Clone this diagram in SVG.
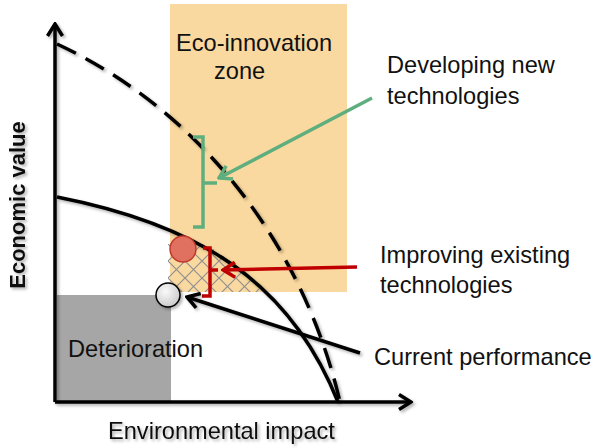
<svg xmlns="http://www.w3.org/2000/svg" width="598" height="448" viewBox="0 0 598 448">
  <style>
    text { font-family: "Liberation Sans", Arial, sans-serif; font-size: 23.6px; fill: #111; }
    .bold { font-weight: bold; font-size: 22px; }
    .ln { fill: none; stroke-linecap: butt; }
    .blk { stroke: #000; stroke-width: 3.5; }
    .grn { stroke: #5fae7e; stroke-width: 3.5; }
    .red { stroke: #c00000; stroke-width: 3.5; }
  </style>
  <defs>
    <filter id="sh" x="-10%" y="-10%" width="130%" height="130%">
      <feDropShadow dx="2" dy="2" stdDeviation="1.5" flood-color="#000" flood-opacity="0.3"/>
    </filter>
    <pattern id="hatch" x="168" y="244" width="17" height="17" patternUnits="userSpaceOnUse">
      <path d="M0,0 L17,17 M17,0 L0,17" stroke="#909090" stroke-width="1.2" fill="none"/>
    </pattern>
    <radialGradient id="gc" cx="40%" cy="35%" r="70%">
      <stop offset="0" stop-color="#fafafa"/>
      <stop offset="1" stop-color="#c8c8c8"/>
    </radialGradient>
    <marker id="mBlk" viewBox="-14 -9 16 18" refX="0" refY="0" markerWidth="16" markerHeight="18" markerUnits="userSpaceOnUse" orient="auto">
      <path d="M-12,-7.5 L0,0 L-12,7.5" fill="none" stroke="#000" stroke-width="3.5"/>
    </marker>
    <marker id="mGrn" viewBox="-14 -9 16 18" refX="0" refY="0" markerWidth="16" markerHeight="18" markerUnits="userSpaceOnUse" orient="auto">
      <path d="M-12,-7.5 L0,0 L-12,7.5" fill="none" stroke="#5fae7e" stroke-width="3.5"/>
    </marker>
    <marker id="mRed" viewBox="-14 -9 16 18" refX="0" refY="0" markerWidth="16" markerHeight="18" markerUnits="userSpaceOnUse" orient="auto">
      <path d="M-12,-7.5 L0,0 L-12,7.5" fill="none" stroke="#c00000" stroke-width="3.5"/>
    </marker>
  </defs>

  <g id="eco-zone">
    <rect x="170" y="4" width="177" height="288" fill="#fad9a0"/>
    <text x="176" y="51">Eco-innovation</text>
    <text x="214" y="79">zone</text>
  </g>

  <g id="deterioration">
    <rect x="57" y="295" width="114" height="107" fill="#a6a6a6"/>
    <text x="68" y="357">Deterioration</text>
  </g>

  <g id="hatch-area">
    <path d="M168,244 L206,244 L233,263 L248,277 L262,292 L168,292 Z" fill="url(#hatch)"/>
  </g>

  <g id="curves" filter="url(#sh)">
    <path class="ln blk" d="M57,44 C207,114 305,252 340,402" stroke-dasharray="21,11"/>
    <path class="ln blk" d="M57,197 C200,225 290,282 338,402"/>
  </g>

  <g id="axes" filter="url(#sh)">
    <path class="ln blk" d="M55,402 L55,24" marker-end="url(#mBlk)"/>
    <path class="ln blk" d="M55,402 L411,402" marker-end="url(#mBlk)"/>
    <text class="bold" transform="translate(25,205) rotate(-90)" text-anchor="middle" x="0" y="0">Economic value</text>
    <text x="108" y="439">Environmental impact</text>
  </g>

  <g id="new-tech-bracket">
    <path class="ln grn" d="M193,137 L203,137 L203,227 L193,227 M203,183 L217,183"/>
  </g>

  <g id="improve-bracket">
    <path class="ln red" d="M203,248 L210,248 L210,296 L202,296 M210,270 L218,270"/>
  </g>

  <g id="improved-point">
    <circle cx="183" cy="249" r="13" fill="#e0705f" stroke="#c0392b" stroke-width="1.5"/>
  </g>

  <g id="current-point" filter="url(#sh)">
    <circle cx="168" cy="295" r="12" fill="url(#gc)" stroke="#000" stroke-width="1.5"/>
  </g>

  <g id="connectors">
    <path class="ln grn" d="M372,98 L219,178" marker-end="url(#mGrn)"/>
    <path class="ln red" d="M357,267 L223,270" marker-end="url(#mRed)"/>
    <path class="ln blk" d="M360,353 L187,297" marker-end="url(#mBlk)" filter="url(#sh)"/>
  </g>

  <g id="label-new">
    <text x="387" y="73">Developing new</text>
    <text x="387" y="104">technologies</text>
  </g>
  <g id="label-improve">
    <text x="380" y="263">Improving existing</text>
    <text x="380" y="293">technologies</text>
  </g>
  <g id="label-current">
    <text x="374" y="365">Current performance</text>
  </g>
</svg>
